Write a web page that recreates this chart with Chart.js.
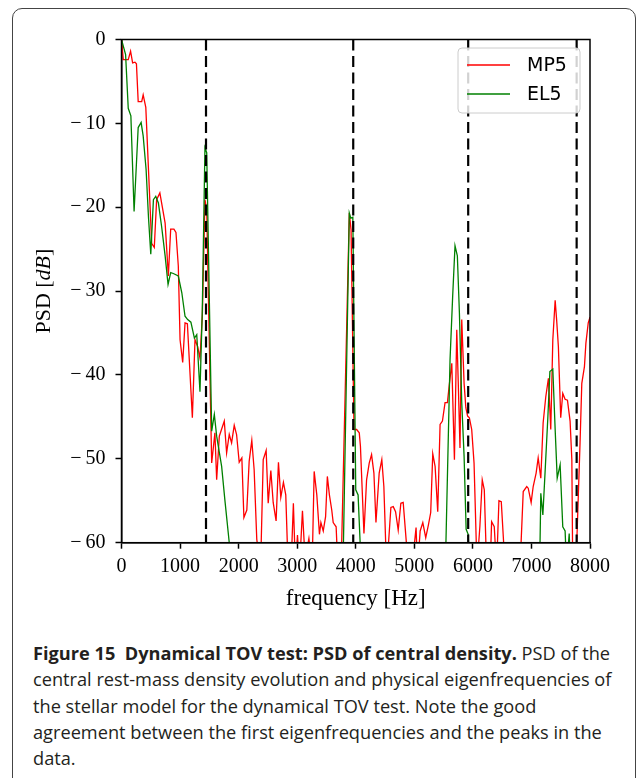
<!DOCTYPE html>
<html>
<head>
<meta charset="utf-8">
<script src="https://cdn.jsdelivr.net/npm/chart.js@4.4.0/dist/chart.umd.min.js"></script>
<style>
    body { margin: 0; background: #fff; width: 636px; height: 778px; overflow: hidden; position: relative; }
    #frame { position: absolute; left: 12px; top: 8px; width: 622px; height: 900px; border: 1px solid #444; border-radius: 10px; }
    #chart-box { position: absolute; left: 0; top: 0; width: 636px; height: 625px; }
    #caption { position: absolute; left: 33px; top: 640px; width: 600px; font-family: "Open Sans", sans-serif; font-size: 18.2px; line-height: 26.3px; color: #231f20; white-space: nowrap; }
    #caption b { font-weight: 700; }
</style>
</head>
<body>
<div id="frame"></div>
<div id="chart-box"><canvas id="psd-chart" width="636" height="625"></canvas></div>
<div id="caption">
    <b>Figure 15&nbsp; Dynamical TOV test: PSD of central density.</b> PSD of the<br>
    central rest-mass density evolution and physical eigenfrequencies of<br>
    the stellar model for the dynamical TOV test. Note the good<br>
    agreement between the first eigenfrequencies and the peaks in the<br>
    data.
</div>
<script>
// MP5 spectrum, frequency [Hz] and PSD [dB] (values below -60 leave the plot)
const mp5Freq = [
    0, 30, 115, 155, 190, 230, 255, 285, 345, 370,
    415, 515, 560, 600, 655, 745, 800, 840, 895, 930,
    970, 1000, 1045, 1085, 1125, 1210, 1255, 1300, 1340, 1380,
    1425, 1455, 1540, 1595, 1625, 1670, 1755, 1795, 1840, 1880,
    1925, 1965, 2010, 2055, 2090, 2140, 2180, 2225, 2265, 2310,
    2375, 2420, 2470, 2505, 2550, 2590, 2640, 2680, 2720, 2765,
    2805, 2845, 2895, 2935, 2970, 3005, 3040, 3090, 3135, 3200,
    3255, 3290, 3335, 3380, 3405, 3445, 3485, 3515, 3550, 3590,
    3615, 3665, 3695, 3750, 3890, 3920, 3970, 4015, 4060, 4080,
    4140, 4185, 4230, 4270, 4310, 4345, 4400, 4445, 4480, 4525,
    4560, 4600, 4640, 4680, 4725, 4770, 4810, 4860, 4895, 4960,
    5030, 5055, 5100, 5145, 5195, 5240, 5280, 5315, 5355, 5400,
    5440, 5480, 5525, 5565, 5600, 5640, 5685, 5725, 5750, 5780,
    5810, 5850, 5880, 5910, 5940, 5980, 6020, 6070, 6120, 6160,
    6195, 6235, 6295, 6320, 6365, 6405, 6445, 6485, 6550, 6805,
    6860, 6920, 6945, 6995, 7030, 7080, 7115, 7160, 7200, 7245,
    7290, 7330, 7365, 7405, 7430, 7460, 7500, 7535, 7575, 7615,
    7660, 7690, 7705, 7760, 7800, 7830, 7860, 7905, 7930, 7970,
    8000
];
const mp5Psd = [
    0, -2.4, -2.4, -1.4, -2.8, -2.7, -2.9, -7.4, -7.4, -6.6,
    -8.1, -24.3, -24.8, -19.1, -18.3, -21.9, -28.2, -22.6, -22.6, -23.0,
    -27.0, -35.8, -38.5, -33.8, -33.9, -45.1, -35.8, -36.6, -38.0, -33.0,
    -19.1, -20.3, -50.5, -46.9, -52.5, -47.3, -45.5, -49.3, -47.1, -48.1,
    -46.0, -47.1, -50.4, -49.9, -57.0, -56.1, -50.3, -47.8, -51.3, -59.6,
    -63, -50.1, -49.0, -55.3, -51.4, -55.2, -57.4, -50.4, -54.6, -52.8,
    -54.3, -63, -63, -55.3, -63, -59.1, -63, -56.2, -62, -59.5,
    -63, -51.5, -54.3, -59.0, -57.6, -58.6, -56.9, -52.1, -54.3, -56.1,
    -57.6, -58.1, -63, -63, -20.7, -22.7, -46.5, -46.5, -46.9, -48.5,
    -58.9, -52.5, -50.5, -49.5, -51.7, -57.6, -51.7, -50.1, -53.3, -63,
    -60, -55.8, -55.7, -56.3, -58.5, -55.3, -55.2, -59.6, -63, -63,
    -58.2, -63, -58.6, -57.6, -59.4, -57.9, -56.4, -49.4, -50.9, -56.3,
    -45.9, -45.5, -43.3, -43.3, -41.0, -38.6, -50.1, -34.6, -40.8, -48.7,
    -33.4, -41.0, -43.9, -44.9, -45.1, -46.5, -50.5, -63, -58, -52.5,
    -53.7, -63, -63, -57.5, -58.1, -63, -55.0, -55.1, -63, -63,
    -53.9, -53.3, -53.5, -55.2, -53.3, -51.7, -49.9, -52.3, -45.7, -42.6,
    -40.4, -46.5, -35.8, -31.1, -33.4, -36.6, -45.1, -42.2, -42.9, -43.0,
    -45.5, -50.1, -63, -63, -54.5, -48.1, -41.0, -39.0, -36.2, -33.8,
    -33.1
];

// EL5 spectrum
const el5Freq = [
    0, 70, 115, 160, 215, 285, 335, 370, 420, 460,
    500, 545, 585, 630, 685, 745, 795, 840, 885, 970,
    1030, 1085, 1130, 1185, 1245, 1285, 1340, 1380, 1425, 1455,
    1540, 1585, 1625, 1710, 1765, 1840, 1870, 3755, 3790, 3890,
    3915, 3950, 4000, 4040, 4075, 4090, 5525, 5540, 5610, 5655,
    5695, 5735, 5770, 5810, 5850, 5885, 5920, 5945, 7140, 7160,
    7195, 7235, 7280, 7315, 7365, 7405, 7440, 7490, 7535, 7575,
    7600, 7645, 7665
];
const el5Psd = [
    0, -1.8, -8.2, -9.1, -20.5, -10.5, -9.9, -11.5, -15.5, -21.1,
    -25.6, -19.1, -18.7, -19.5, -22.3, -25.8, -29.2, -27.8, -27.9, -28.2,
    -30.2, -33.0, -33.4, -33.7, -35.6, -35.2, -42.0, -32.2, -12.9, -13.5,
    -46.7, -44.7, -47.3, -50.9, -54.9, -60, -63, -63, -60, -20.7,
    -21.3, -21.2, -53.7, -54.3, -60, -63, -63, -60, -38.2, -30.6,
    -24.6, -25.8, -32.6, -43.3, -49.7, -58.4, -59.0, -63, -63, -54.1,
    -56.7, -51.3, -45.1, -39.6, -39.3, -46.5, -52.3, -50.7, -58.1, -58.6,
    -63, -58.9, -63
];

// physical eigenfrequencies (dashed lines)
const eigenFreqs = [1443, 3957, 5920, 7772];

const xTicks = [0, 1000, 2000, 3000, 4000, 5000, 6000, 7000, 8000];
const yTicks = [0, -10, -20, -30, -40, -50, -60];

const serif = "'Liberation Serif', 'Times New Roman', serif";

function toPoints(xs, ys) {
    return xs.map((x, i) => ({ x: x, y: ys[i] }));
}

// top/right spines plus the boxed legend, drawn over the data
const framePlugin = {
    id: 'frame',
    afterDatasetsDraw(chart) {
        const ctx = chart.ctx;
        const a = chart.chartArea;
        ctx.save();
        ctx.setLineDash([]);
        ctx.strokeStyle = '#000';
        ctx.lineWidth = 1.5;
        ctx.strokeRect(a.left, a.top, a.right - a.left, a.bottom - a.top);

        // legend box, semi-transparent like matplotlib's
        const bx = 458, by = 48, bw = 122, bh = 65;
        ctx.beginPath();
        ctx.roundRect(bx, by, bw, bh, 4);
        ctx.fillStyle = 'rgba(255,255,255,0.82)';
        ctx.fill();
        ctx.strokeStyle = '#cccccc';
        ctx.lineWidth = 1;
        ctx.stroke();

        const items = chart.data.datasets.slice(0, 2);
        ctx.font = "19px 'DejaVu Sans', sans-serif";
        ctx.textBaseline = 'middle';
        items.forEach((ds, i) => {
            const y = 65 + i * 29;
            ctx.strokeStyle = ds.borderColor;
            ctx.lineWidth = 1.3;
            ctx.beginPath();
            ctx.moveTo(467, y);
            ctx.lineTo(510, y);
            ctx.stroke();
            ctx.fillStyle = '#000';
            ctx.fillText(ds.label, 527, y + 1);
        });

        // y axis title with italic unit
        ctx.translate(44, (a.top + a.bottom) / 2);
        ctx.rotate(-Math.PI / 2);
        ctx.fillStyle = '#000';
        ctx.textBaseline = 'middle';
        const parts = [
            { t: 'PSD [', f: "22px " + serif },
            { t: 'dB', f: "italic 22px " + serif },
            { t: ']', f: "22px " + serif }
        ];
        let total = 0;
        parts.forEach(p => { ctx.font = p.f; total += ctx.measureText(p.t).width; });
        let x = -total / 2;
        parts.forEach(p => {
            ctx.font = p.f;
            ctx.fillText(p.t, x, 0);
            x += ctx.measureText(p.t).width;
        });
        ctx.restore();
    }
};

function createPsdChart() {
    const ctx = document.getElementById('psd-chart').getContext('2d');

    const datasets = [
        { label: 'MP5', data: toPoints(mp5Freq, mp5Psd), borderColor: '#ff0000', borderWidth: 1.3, order: 2 },
        { label: 'EL5', data: toPoints(el5Freq, el5Psd), borderColor: '#008000', borderWidth: 1.3, order: 1 }
    ];
    eigenFreqs.forEach(f => {
        datasets.push({
            label: 'eigen',
            data: [{ x: f, y: 0 }, { x: f, y: -60 }],
            borderColor: '#000',
            borderWidth: 2.2,
            borderDash: [11, 5.5],
            order: 0
        });
    });

    new Chart(ctx, {
        type: 'line',
        data: { datasets: datasets },
        options: {
            responsive: false,
            animation: false,
            parsing: false,
            elements: { point: { radius: 0 }, line: { tension: 0, fill: false } },
            layout: { padding: { left: 0, right: 46, top: 39.5, bottom: 0 } },
            plugins: { legend: { display: false }, tooltip: { enabled: false } },
            scales: {
                x: {
                    type: 'linear',
                    min: 0,
                    max: 8000,
                    afterBuildTicks: s => { s.ticks = xTicks.map(v => ({ value: v })); },
                    afterFit: s => { s.height = 82.3; },
                    grid: { drawOnChartArea: false, drawTicks: true, tickLength: 6, tickColor: '#000', tickWidth: 1.5 },
                    border: { display: true, color: '#000', width: 1.5 },
                    ticks: {
                        color: '#000',
                        font: { family: serif, size: 20 },
                        padding: 6,
                        maxRotation: 0,
                        autoSkip: false,
                        callback: v => String(v)
                    },
                    title: { display: true, text: 'frequency [Hz]', color: '#000', font: { family: serif, size: 23 }, padding: { top: 0, bottom: 12 } }
                },
                y: {
                    type: 'linear',
                    min: -60,
                    max: 0,
                    afterBuildTicks: s => { s.ticks = yTicks.map(v => ({ value: v })); },
                    afterFit: s => { s.width = 121.5; },
                    grid: { drawOnChartArea: false, drawTicks: true, tickLength: 6, tickColor: '#000', tickWidth: 1.5 },
                    border: { display: true, color: '#000', width: 1.5 },
                    ticks: {
                        color: '#000',
                        font: { family: serif, size: 20 },
                        padding: 10,
                        callback: v => (v < 0 ? '\u2212\u2009' + Math.abs(v) : String(v))
                    }
                }
            }
        },
        plugins: [framePlugin]
    });
}

createPsdChart();
</script>
</body>
</html>
